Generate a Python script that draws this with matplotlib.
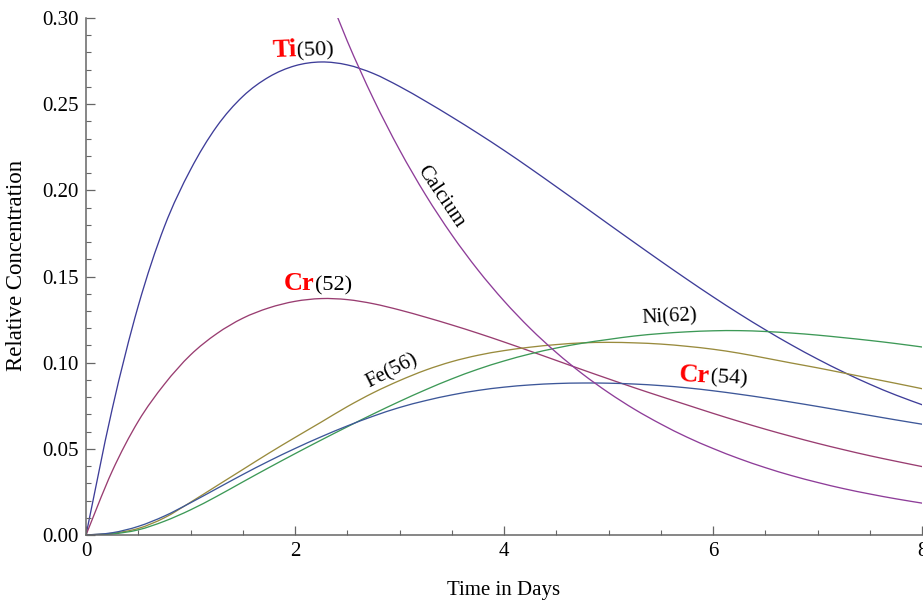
import matplotlib

matplotlib.use("Agg")
import matplotlib.pyplot as plt
import numpy as np
from matplotlib.patches import PathPatch
from matplotlib.path import Path
from matplotlib.ticker import FixedLocator, MultipleLocator

plt.rcParams["font.family"] = ["Liberation Serif", "DejaVu Serif"]

# Sampling grid (days) shared by the decay-chain products.
days = np.arange(0.0, 8.001, 0.25)

ti50 = [0.0, 0.073, 0.133, 0.179, 0.212, 0.237, 0.2545, 0.2658, 0.2723,
        0.2745, 0.2728, 0.2678, 0.2603, 0.2517, 0.2426, 0.2331, 0.2232,
        0.2128, 0.2021, 0.1913, 0.1804, 0.1696, 0.1589, 0.1484, 0.1382,
        0.1284, 0.1191, 0.1103, 0.1021, 0.0945, 0.0875, 0.0812, 0.0756]

cr52 = [0.0, 0.037, 0.066, 0.0875, 0.1045, 0.1168, 0.1258, 0.1318, 0.1356,
        0.1372, 0.1366, 0.1342, 0.1306, 0.1264, 0.1219, 0.1171, 0.112,
        0.1067, 0.1013, 0.0959, 0.0906, 0.0854, 0.0804, 0.0755, 0.0706,
        0.0659, 0.0614, 0.0572, 0.0532, 0.0495, 0.046, 0.0428, 0.0397]

fe56 = [0.0, 0.001, 0.0038, 0.010, 0.019, 0.0285, 0.038, 0.0475, 0.0566,
        0.0655, 0.0745, 0.0826, 0.0896, 0.0957, 0.1006, 0.1043, 0.107,
        0.109, 0.1105, 0.1115, 0.1118, 0.1115, 0.1108, 0.1095, 0.1078,
        0.1055, 0.1027, 0.0998, 0.097, 0.094, 0.091, 0.088, 0.0849]

ni62 = [0.0, 0.0006, 0.003, 0.008, 0.0146, 0.0224, 0.0308, 0.0391, 0.0472,
        0.0551, 0.0628, 0.0703, 0.0775, 0.0843, 0.0906, 0.0962, 0.101,
        0.1051, 0.1085, 0.1113, 0.1135, 0.1155, 0.1169, 0.1179, 0.1185,
        0.1186, 0.1181, 0.1172, 0.116, 0.1145, 0.1129, 0.1111, 0.1091]

cr54 = [0.0, 0.0013, 0.005, 0.011, 0.0187, 0.0269, 0.0351, 0.0429, 0.0502,
        0.057, 0.0633, 0.069, 0.074, 0.078, 0.0813, 0.0839, 0.0858,
        0.0871, 0.0879, 0.0882, 0.0881, 0.0876, 0.0867, 0.0854, 0.0837,
        0.0817, 0.0795, 0.0771, 0.0746, 0.072, 0.0694, 0.0668, 0.0643]

# Calcium runs off the top of the frame before ~2.4 days.
calcium_days = np.arange(2.25, 8.001, 0.25)
calcium = [0.3245, 0.2866, 0.2531, 0.2235, 0.1973, 0.1742, 0.1538, 0.1358,
           0.1199, 0.1059, 0.0935, 0.0826, 0.0729, 0.0644, 0.0568, 0.0502,
           0.0443, 0.0391, 0.0345, 0.0305, 0.0269, 0.0238, 0.021, 0.0185]


def smooth_curve(ax, x, y, color, lw=0.95):
    """Draw the samples as a Catmull-Rom spline made of cubic Bezier pieces."""
    pts = np.column_stack([x, y]).astype(float)
    n = len(pts)
    verts = [pts[0]]
    codes = [Path.MOVETO]
    for i in range(n - 1):
        p0 = pts[i - 1] if i > 0 else pts[i]
        p1, p2 = pts[i], pts[i + 1]
        p3 = pts[i + 2] if i + 2 < n else pts[i + 1]
        verts += [p1 + (p2 - p0) / 6.0, p2 - (p3 - p1) / 6.0, p2]
        codes += [Path.CURVE4] * 3
    ax.add_patch(PathPatch(Path(verts, codes), fill=False, edgecolor=color,
                           lw=lw, capstyle="round", joinstyle="round"))


fig = plt.figure(figsize=(9.23, 6.01), dpi=100)
ax = fig.add_axes([0.0932, 0.1098, 0.9058, 0.8602])

smooth_curve(ax, days, ti50, "#3e3d99")
smooth_curve(ax, days, cr52, "#993d71")
smooth_curve(ax, days, fe56, "#998b3d")
smooth_curve(ax, days, ni62, "#3d9957")
smooth_curve(ax, days, cr54, "#3d5799")
smooth_curve(ax, calcium_days, calcium, "#8e3d99")

ax.set_xlim(0, 8)
ax.set_ylim(0, 0.30)

for side in ("top", "right"):
    ax.spines[side].set_visible(False)
for side in ("left", "bottom"):
    ax.spines[side].set_color("#666666")
    ax.spines[side].set_linewidth(1.1)

ax.xaxis.set_major_locator(FixedLocator([0, 2, 4, 6, 8]))
ax.xaxis.set_minor_locator(MultipleLocator(0.5))
ax.yaxis.set_major_locator(MultipleLocator(0.05))
ax.yaxis.set_minor_locator(MultipleLocator(0.01))
ax.yaxis.set_major_formatter(lambda v, _: f"{v:.2f}")
ax.xaxis.set_major_formatter(lambda v, _: f"{v:.0f}")
ax.tick_params(which="major", direction="in", length=6.5, width=0.9,
               color="#666666", labelsize=15, pad=5)
ax.tick_params(which="minor", direction="in", length=3.5, width=0.8,
               color="#666666")

ax.set_xlabel("Time in Days", fontsize=15)
ax.set_ylabel("Relative Concentration", fontsize=16.5)
ax.xaxis.set_label_coords(0.5, -0.088)
ax.yaxis.set_label_coords(-0.070, 0.522)


def isotope_label(x, y, symbol, mass, rot=0.0):
    """Bold red element symbol followed by the mass number in black."""
    ax.text(x, y, symbol, color="red", fontweight="bold", fontsize=19,
            ha="right", va="baseline", rotation=rot, rotation_mode="anchor")
    ax.text(x, y, f"({mass})", color="black", fontsize=16,
            ha="left", va="baseline", rotation=rot, rotation_mode="anchor")


isotope_label(2.02, 0.2779, "Ti", 50, rot=2)
isotope_label(2.19, 0.1419, "Cr", 52)
isotope_label(5.97, 0.0884, "Cr", 54, rot=-3)

ax.text(5.58, 0.1265, "Ni(62)", fontsize=15, ha="center", va="center",
        rotation=3)
ax.text(2.93, 0.0948, "Fe(56)", fontsize=15, ha="center", va="center",
        rotation=27)
ax.text(3.39, 0.196, "Calcium", fontsize=15, ha="center", va="center",
        rotation=-56)

fig.savefig("out.png", dpi=100)
